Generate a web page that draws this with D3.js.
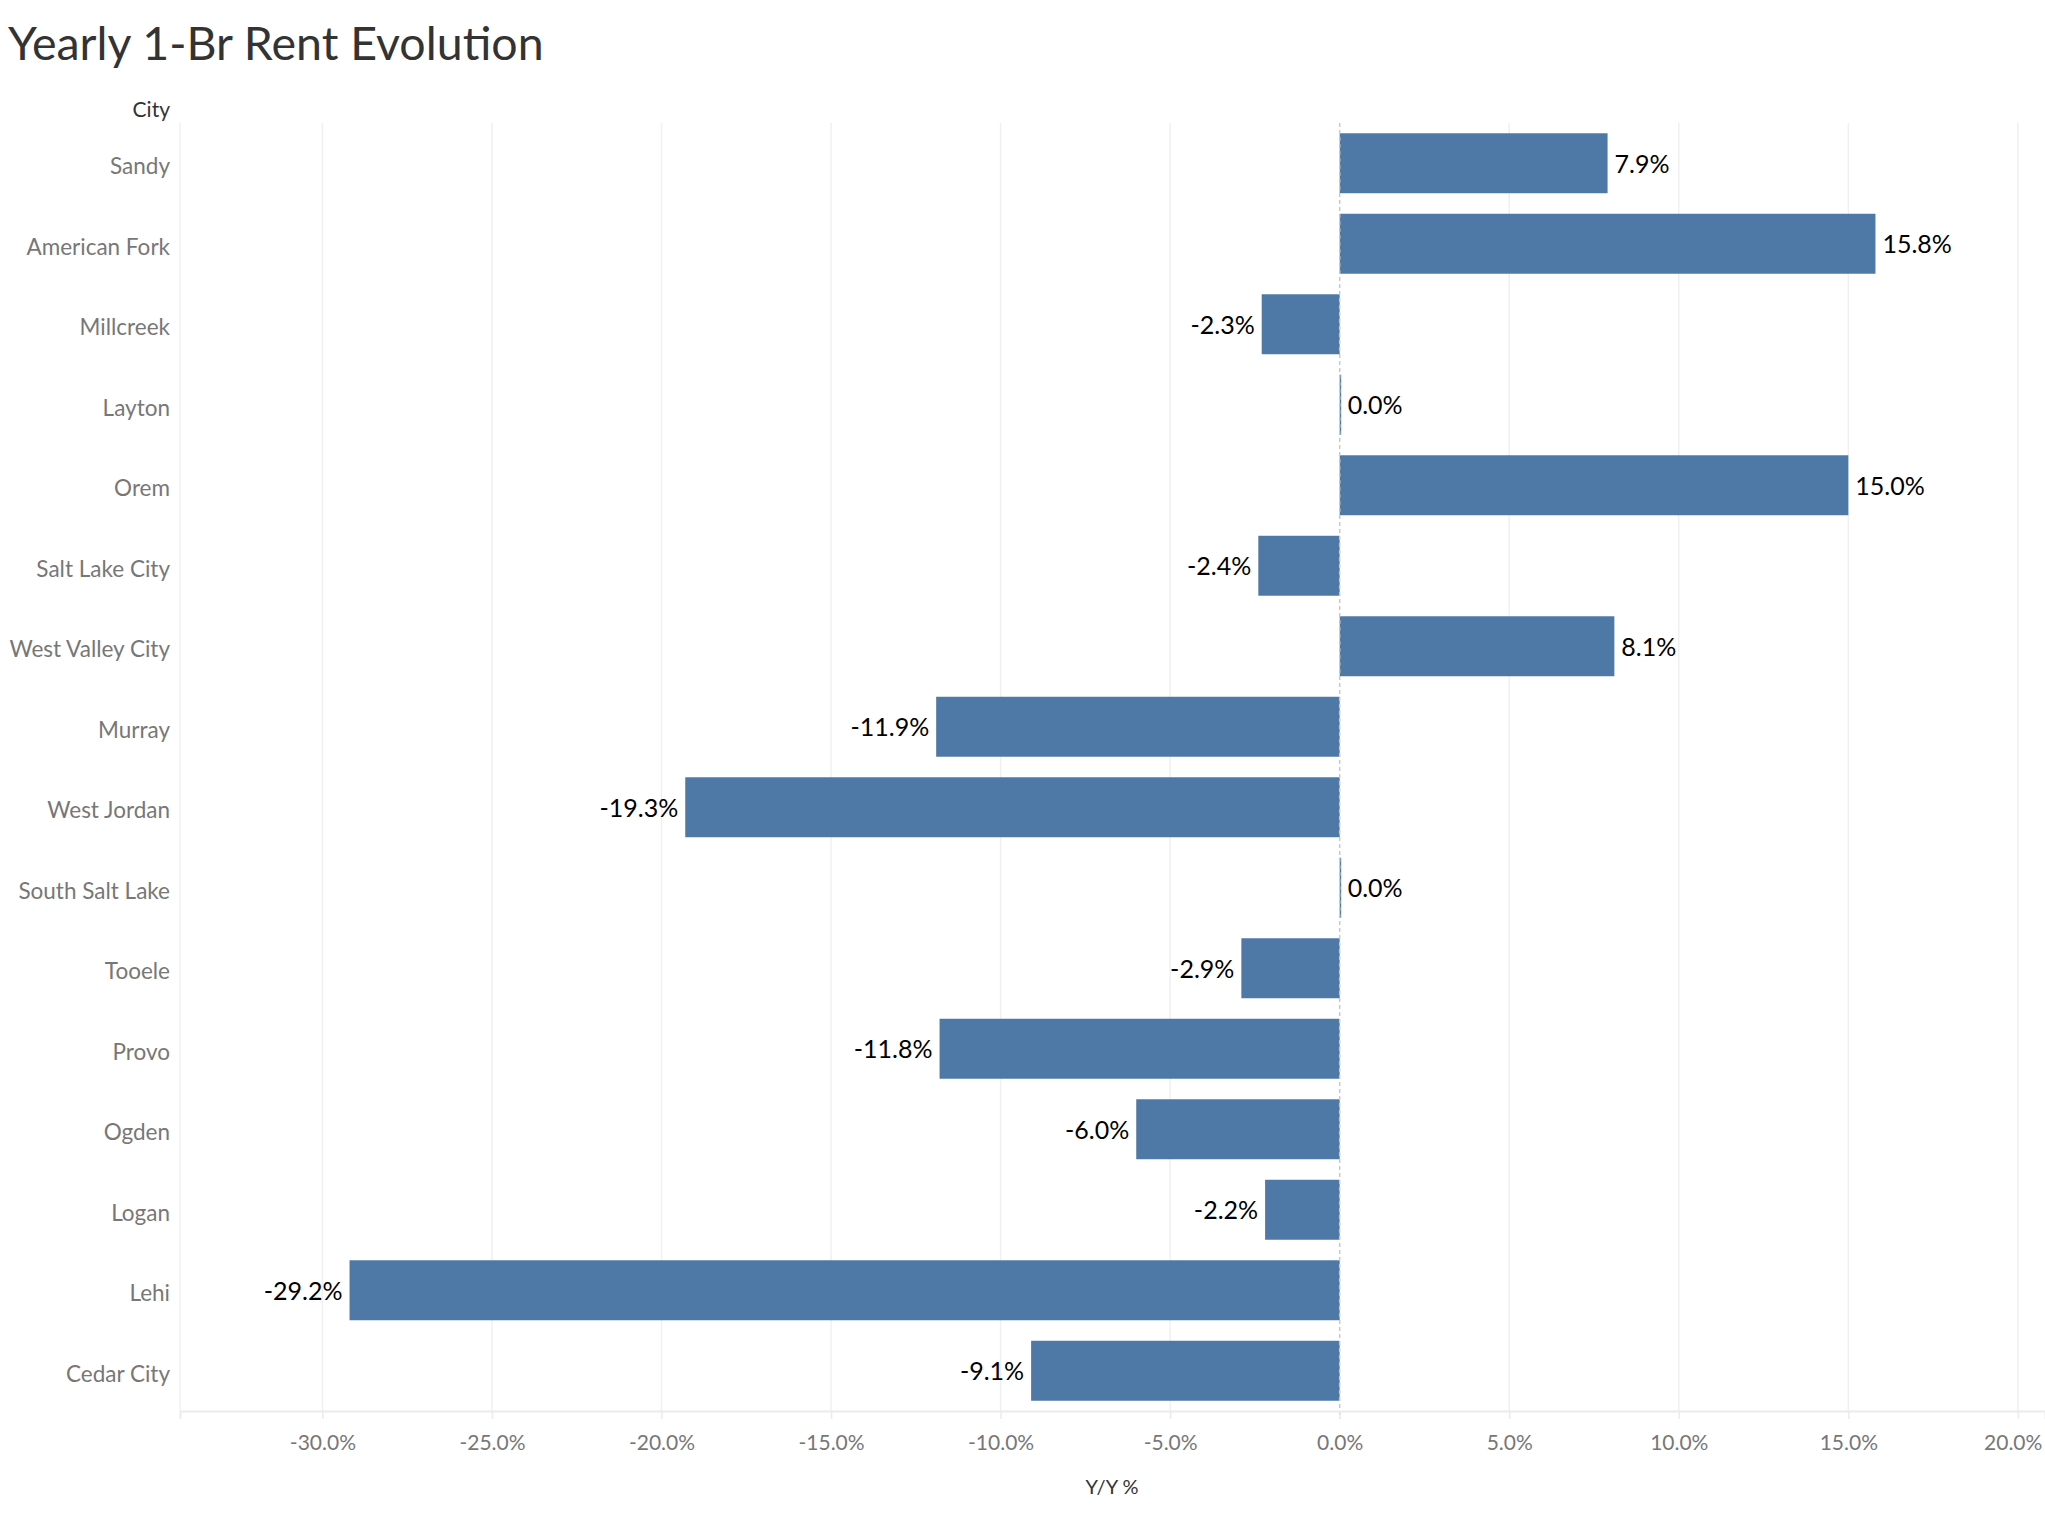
<!DOCTYPE html>
<html>
<head>
<meta charset="utf-8">
<script src="https://cdn.jsdelivr.net/npm/d3@7"></script>
<style>
  body { margin: 0; background: #fff; }
  svg { display: block; font-family: Lato, "Open Sans", sans-serif; }
</style>
</head>
<body>
<div id="chart"></div>
<script>
const cities = ["Sandy", "American Fork", "Millcreek", "Layton", "Orem", "Salt Lake City",
  "West Valley City", "Murray", "West Jordan", "South Salt Lake", "Tooele", "Provo",
  "Ogden", "Logan", "Lehi", "Cedar City"];
const yoy = [7.9, 15.8, -2.3, 0.03, 15.0, -2.4, 8.1, -11.9, -19.3, 0.03, -2.9, -11.8, -6.0, -2.2, -29.2, -9.1];
const xTicks = [-30, -25, -20, -15, -10, -5, 0, 5, 10, 15, 20];

const W = 2045, H = 1514;
const plot = { left: 180, right: 2045, top: 123, bottom: 1411 };
const pct = v => v.toFixed(1) + "%";

const svg = d3.select("#chart").append("svg").attr("width", W).attr("height", H);

// ---------- scales ----------
const x = d3.scaleLinear().domain([-34.2, 20.8]).range([plot.left, plot.right]);
const y = d3.scaleBand().domain(cities).range([plot.top, plot.bottom]).paddingInner(0.255).paddingOuter(0.1275);

// title
svg.append("text").attr("x", 8).attr("y", 60)
  .attr("font-size", 46.5).attr("fill", "#333").text("Yearly 1-Br Rent Evolution");

svg.append("text").attr("x", 170).attr("y", 110).attr("dy", "0.35em")
  .attr("text-anchor", "end").attr("font-size", 21).attr("fill", "#333").text("City");

// gridlines
svg.append("g").selectAll("line").data(xTicks.filter(d => d !== 0)).enter().append("line")
  .attr("x1", d => x(d)).attr("x2", d => x(d))
  .attr("y1", plot.top).attr("y2", plot.bottom)
  .attr("stroke", "#f0f0f0").attr("stroke-width", 1.5);

svg.append("line").attr("x1", plot.left).attr("x2", plot.left)
  .attr("y1", plot.top).attr("y2", plot.bottom)
  .attr("stroke", "#f0f0f0").attr("stroke-width", 1.5);

// bars
svg.append("g").selectAll("rect").data(cities).enter().append("rect")
  .attr("x", (d, i) => x(Math.min(0, yoy[i])))
  .attr("y", d => y(d))
  .attr("width", (d, i) => Math.max(1.5, Math.abs(x(yoy[i]) - x(0))))
  .attr("height", y.bandwidth())
  .attr("fill", "#4e79a7");

// zero line
svg.append("line").attr("x1", x(0)).attr("x2", x(0))
  .attr("y1", plot.top).attr("y2", plot.bottom + 8)
  .attr("stroke", "#c8c8c8").attr("stroke-width", 1.5).attr("stroke-dasharray", "4,3");

// value labels
svg.append("g").selectAll("text").data(cities).enter().append("text")
  .attr("x", (d, i) => yoy[i] >= 0 ? x(yoy[i]) + 7 : x(yoy[i]) - 7)
  .attr("y", d => y(d) + y.bandwidth() / 2)
  .attr("dy", "0.38em")
  .attr("text-anchor", (d, i) => yoy[i] >= 0 ? "start" : "end")
  .attr("font-size", 25).attr("fill", "#000")
  .text((d, i) => pct(yoy[i]));

// y axis labels
svg.append("g").selectAll("text").data(cities).enter().append("text")
  .attr("x", 170).attr("y", d => y(d) + y.bandwidth() / 2 + 3).attr("dy", "0.35em")
  .attr("text-anchor", "end").attr("font-size", 22.5).attr("fill", "#777")
  .text(d => d);

// x axis
const xAxis = svg.append("g").attr("transform", `translate(0,${plot.bottom})`)
  .call(d3.axisBottom(x).tickValues(xTicks).tickSize(8).tickPadding(16).tickFormat(pct));
xAxis.select(".domain").attr("stroke", "#ebebeb").attr("stroke-width", 2);
xAxis.selectAll(".tick line").attr("stroke", "#ebebeb").attr("stroke-width", 1.5);
xAxis.selectAll(".tick text").attr("font-size", 21).attr("fill", "#777")
  .attr("font-family", "Lato, 'Open Sans', sans-serif")
  .attr("text-anchor", d => d === 20 ? "end" : "middle")
  .attr("dx", d => d === 20 ? 24 : 0);

svg.append("text").attr("x", 1112).attr("y", 1487).attr("dy", "0.35em")
  .attr("text-anchor", "middle").attr("font-size", 20).attr("fill", "#333").text("Y/Y %");
</script>
</body>
</html>
